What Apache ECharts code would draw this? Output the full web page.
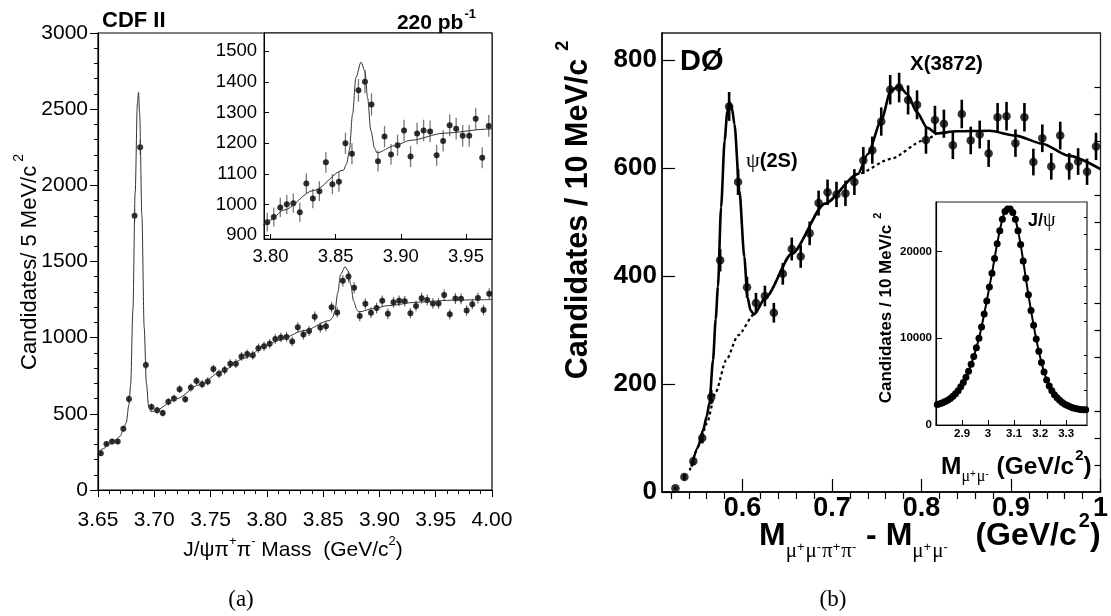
<!DOCTYPE html>
<html>
<head>
<meta charset="utf-8">
<script src="https://cdn.jsdelivr.net/npm/echarts@6/dist/echarts.min.js"></script>
<style>
html, body { margin: 0; padding: 0; background: #fff; }
#main { width: 1111px; height: 616px; }
</style>
</head>
<body>
<div id="main"></div>
<script>
// ---- (a) CDF II : J/psi pi+ pi- mass, 5 MeV bins starting at 3.650 ----
var cdfBinStart = 3.65;
var cdfBinWidth = 0.005;
var cdfCounts = [241, 302, 319, 319, 402, 597, 1800, 2250, 820, 545,
    523, 505, 579, 601, 662, 595, 673, 715, 695, 713,
    794, 763, 787, 829, 829, 877, 892, 885, 931, 943,
    960, 991, 1001, 1005, 975, 1069, 1020, 1044, 1138, 1067,
    1075, 1200, 1166, 1373, 1401, 1327, 1142, 1222, 1164, 1194,
    1242, 1157, 1232, 1242, 1239, 1161, 1208, 1259, 1248, 1225,
    1225, 1280, 1153, 1257, 1255, 1179, 1220, 1260, 1181, 1288];
// fit curve
var cdfFitMass = [3.650, 3.655, 3.660, 3.665, 3.670, 3.6725, 3.675, 3.6775, 3.679, 3.681,
    3.683, 3.685, 3.686, 3.687, 3.689, 3.691, 3.693, 3.695, 3.697, 3.700,
    3.720, 3.740, 3.760, 3.780, 3.800, 3.810, 3.833, 3.856, 3.8585, 3.8605,
    3.863, 3.8655, 3.8695, 3.8725, 3.8745, 3.877, 3.880, 3.8817, 3.895, 3.9075,
    3.933, 3.9675, 4.000];
var cdfFitCounts = [245, 272, 300, 326, 355, 400, 440, 560, 690, 1180,
    1950, 2540, 2610, 2470, 1800, 1070, 700, 545, 515, 518,
    600, 690, 780, 865, 950, 982, 1046, 1113, 1134, 1177,
    1296, 1414, 1465, 1435, 1349, 1242, 1183, 1169, 1192, 1210,
    1233, 1247, 1250];
var cdfInsetXTicks = [3.80, 3.85, 3.90, 3.95];
var cdfInsetYTicks = [900, 1000, 1100, 1200, 1300, 1400, 1500];

// ---- (b) D0 : M(mu mu pi pi) - M(mu mu), 10 MeV bins starting at 0.520 ----
var d0BinStart = 0.52;
var d0BinWidth = 0.01;
var d0Counts = [7, 28, 57, 100, 176, 429, 714, 574, 379, 350,
    363, 332, 404, 450, 436, 479, 535, 555, 551, 553,
    574, 614, 633, 686, 745, 749, 726, 717, 652, 689,
    682, 642, 700, 651, 662, 627, 694, 696, 646, 694,
    611, 655, 603, 660, 603, 612, 593, 640];
var d0FitMass = [0.543, 0.550, 0.556, 0.560, 0.563, 0.567, 0.570, 0.5725, 0.576, 0.580,
    0.583, 0.5855, 0.588, 0.591, 0.5965, 0.602, 0.6055, 0.609, 0.613, 0.626,
    0.655, 0.692, 0.729, 0.740, 0.755, 0.7656, 0.775, 0.784, 0.795, 0.806,
    0.817, 0.839, 0.876, 0.905, 0.935, 0.964, 1.000];
var d0FitCounts = [47, 82, 115, 140, 165, 244, 320, 380, 527, 651,
    705, 722, 712, 681, 558, 435, 361, 336, 329, 361,
    441, 534, 589, 626, 688, 743, 752, 737, 703, 675,
    664, 668, 669, 660, 645, 623, 598];
var d0BgMass = [0.541, 0.552, 0.560, 0.570, 0.5817, 0.595, 0.613, 0.626, 0.655, 0.692,
    0.729, 0.7656, 0.8024, 0.817];
var d0BgCounts = [40, 88, 127, 185, 244, 290, 329, 361, 441, 534,
    589, 617, 651, 664];
var d0XTicks = [0.6, 0.7, 0.8, 0.9, 1];
var d0XMinorTicks = [0.52, 0.54, 0.56, 0.58, 0.62, 0.64, 0.66, 0.68, 0.72, 0.74,
    0.76, 0.78, 0.82, 0.84, 0.86, 0.88, 0.92, 0.94, 0.96, 0.98];
var d0YTicks = [0, 200, 400, 600, 800];
var d0YMinorTicks = [50, 100, 150, 250, 300, 350, 450, 500, 550, 650, 700, 750];

// inset of (b): J/psi -> mu mu, 10 MeV bins starting at 2.800
var jpsiBinStart = 2.80;
var jpsiBinWidth = 0.01;
var jpsiCounts = [2350, 2450, 2550, 2700, 2850, 3050, 3300, 3600, 3950, 4400,
    4900, 5500, 6200, 7000, 7900, 8900, 10000, 11300, 12800, 14300,
    15900, 17500, 19200, 20900, 22400, 23700, 24600, 24900, 24900, 24500,
    23700, 22400, 20800, 18900, 16900, 15000, 13200, 11500, 9900, 8500,
    7200, 6100, 5200, 4500, 3950, 3500, 3150, 2850, 2600, 2400,
    2250, 2100, 2000, 1900, 1850, 1800, 1750, 1750];
var jpsiXTicks = [2.9, 3, 3.1, 3.2, 3.3];
var jpsiYTicks = [0, 10000, 20000];
var jpsiYMinorTicks = [2000, 4000, 6000, 8000, 12000, 14000, 16000, 18000, 22000, 24000];

var SANS = 'Liberation Sans, Arial, Helvetica, sans-serif';
var SERIF = 'Liberation Serif, DejaVu Serif, serif';

function binned(start, width, counts) {
    return counts.map(function (c, i) { return [start + width * (i + 0.5), c]; });
}
function zip(xs, ys) {
    return xs.map(function (x, i) { return [x, ys[i]]; });
}
function withErr(pts) {
    return pts.map(function (p) { return [p[0], p[1], Math.sqrt(p[1])]; });
}
function errBars(width, color) {
    return function (params, api) {
        var x = api.value(0), y = api.value(1), e = api.value(2);
        var a = api.coord([x, y - e]), b = api.coord([x, y + e]);
        return {
            type: 'line',
            shape: { x1: a[0], y1: a[1], x2: b[0], y2: b[1] },
            style: { stroke: color, lineWidth: width }
        };
    };
}
function plain(v) { return String(v); }
function fixed2(v) { return v.toFixed(2); }

var cdfPts = binned(cdfBinStart, cdfBinWidth, cdfCounts);
var cdfInsetPts = cdfPts.filter(function (p) { return p[0] > 3.795 && p[0] < 3.97; });
var d0Pts = binned(d0BinStart, d0BinWidth, d0Counts);
var jpsiPts = binned(jpsiBinStart, jpsiBinWidth, jpsiCounts);

var black = { color: '#000' };

var chart = echarts.init(document.getElementById('main'));
var option = {
    animation: false,
    backgroundColor: '#fff',
    grid: [
        { left: 98, top: 33, width: 394, height: 457, show: true, borderColor: '#000', borderWidth: 1.2 },
        { left: 264, top: 33, width: 228, height: 206, show: true, borderColor: '#000', borderWidth: 1, backgroundColor: '#fff' },
        { left: 662, top: 33, width: 444, height: 459, show: true, borderColor: '#222', borderWidth: 1.3 },
        { left: 936, top: 202, width: 151, height: 223, show: true, borderColor: '#222', borderWidth: 1.2, backgroundColor: '#fff' }
    ],
    xAxis: [
        {
            gridIndex: 0, type: 'value', min: 3.65, max: 4.0, interval: 0.05,
            axisLine: { lineStyle: { color: '#000', width: 1.2 } },
            axisTick: { inside: false, length: 7, lineStyle: black },
            minorTick: { show: true, splitNumber: 5, length: 4, lineStyle: black },
            axisLabel: { margin: 20, color: '#000', fontFamily: SANS, fontSize: 21, formatter: fixed2 },
            splitLine: { show: false }
        },
        {
            gridIndex: 1, type: 'value', min: 3.795, max: 3.97,
            axisLine: { lineStyle: { color: '#000', width: 1 } },
            axisTick: { inside: true, length: 5, customValues: cdfInsetXTicks, lineStyle: black },
            axisLabel: { margin: 8, color: '#000', fontFamily: SANS, fontSize: 18.5, customValues: cdfInsetXTicks, formatter: fixed2 },
            splitLine: { show: false }
        },
        {
            gridIndex: 2, type: 'value', min: 0.51, max: 1.0,
            axisLine: { lineStyle: { color: '#000', width: 1.5 } },
            axisTick: { inside: true, length: 13, customValues: d0XTicks, lineStyle: { color: '#000', width: 1.2 } },
            axisLabel: { margin: 3, color: '#000', fontFamily: SANS, fontWeight: 'bold', fontSize: 27, customValues: d0XTicks, formatter: plain },
            splitLine: { show: false }
        },
        {
            gridIndex: 2, type: 'value', min: 0.51, max: 1.0,
            axisLine: { show: false },
            axisTick: { inside: true, length: 7, customValues: d0XMinorTicks, lineStyle: { color: '#000', width: 1.2 } },
            axisLabel: { show: false },
            splitLine: { show: false }
        },
        {
            gridIndex: 3, type: 'value', min: 2.8, max: 3.38,
            axisLine: { lineStyle: { color: '#000', width: 1.2 } },
            axisTick: { inside: true, length: 5, customValues: jpsiXTicks, lineStyle: black },
            axisLabel: { margin: 3, color: '#000', fontFamily: SANS, fontWeight: 'bold', fontSize: 11.5, customValues: jpsiXTicks, formatter: plain },
            splitLine: { show: false }
        }
    ],
    yAxis: [
        {
            gridIndex: 0, type: 'value', min: 0, max: 3000, interval: 500,
            axisLine: { lineStyle: { color: '#000', width: 1.2 } },
            axisTick: { inside: false, length: 8, lineStyle: black },
            minorTick: { show: true, splitNumber: 5, length: 4, lineStyle: black },
            axisLabel: { margin: 10, color: '#000', fontFamily: SANS, fontSize: 21, formatter: plain },
            splitLine: { show: false }
        },
        {
            gridIndex: 1, type: 'value', min: 888, max: 1560,
            axisLine: { lineStyle: { color: '#000', width: 1 } },
            axisTick: { inside: true, length: 5, customValues: cdfInsetYTicks, lineStyle: black },
            axisLabel: { margin: 7, color: '#000', fontFamily: SANS, fontSize: 18.5, customValues: cdfInsetYTicks, formatter: plain },
            splitLine: { show: false }
        },
        {
            gridIndex: 2, type: 'value', min: 0, max: 850,
            axisLine: { lineStyle: { color: '#000', width: 1.5 } },
            axisTick: { inside: true, length: 13, customValues: d0YTicks, lineStyle: { color: '#000', width: 1.2 } },
            axisLabel: { margin: 5, color: '#000', fontFamily: SANS, fontWeight: 'bold', fontSize: 26, customValues: d0YTicks, formatter: plain },
            splitLine: { show: false }
        },
        {
            gridIndex: 3, type: 'value', min: 0, max: 25700,
            axisLine: { lineStyle: { color: '#000', width: 1.2 } },
            axisTick: { inside: true, length: 6, customValues: jpsiYTicks, lineStyle: black },
            axisLabel: { margin: 4, color: '#000', fontFamily: SANS, fontWeight: 'bold', fontSize: 11.5, customValues: jpsiYTicks, formatter: plain },
            splitLine: { show: false }
        },
        {
            gridIndex: 2, type: 'value', min: 0, max: 850,
            axisLine: { show: false },
            axisTick: { inside: true, length: 6, customValues: d0YMinorTicks, lineStyle: { color: '#000', width: 1.2 } },
            axisLabel: { show: false },
            splitLine: { show: false }
        },
        {
            gridIndex: 3, type: 'value', min: 0, max: 25700,
            axisLine: { show: false },
            axisTick: { inside: true, length: 3, customValues: jpsiYMinorTicks, lineStyle: black },
            axisLabel: { show: false },
            splitLine: { show: false }
        }
    ],
    series: [
        // (a) main
        { type: 'line', xAxisIndex: 0, yAxisIndex: 0, data: zip(cdfFitMass, cdfFitCounts),
          showSymbol: false, smooth: 0.3, smoothMonotone: 'x', lineStyle: { color: '#333', width: 1 } },
        { type: 'custom', coordinateSystem: 'cartesian2d', xAxisIndex: 0, yAxisIndex: 0,
          data: withErr(cdfPts), renderItem: errBars(1.2, '#666') },
        { type: 'scatter', xAxisIndex: 0, yAxisIndex: 0, data: cdfPts, symbolSize: 6, itemStyle: { color: '#000' } },
        // (a) inset
        { type: 'line', xAxisIndex: 1, yAxisIndex: 1, data: zip(cdfFitMass, cdfFitCounts),
          showSymbol: false, smooth: 0.3, smoothMonotone: 'x', lineStyle: { color: '#333', width: 1 } },
        { type: 'custom', coordinateSystem: 'cartesian2d', xAxisIndex: 1, yAxisIndex: 1,
          data: withErr(cdfInsetPts), renderItem: errBars(1.3, '#777') },
        { type: 'scatter', xAxisIndex: 1, yAxisIndex: 1, data: cdfInsetPts, symbolSize: 6, itemStyle: { color: '#000' } },
        // (b) main
        { type: 'line', xAxisIndex: 2, yAxisIndex: 2, data: zip(d0BgMass, d0BgCounts),
          showSymbol: false, smooth: 0.25, smoothMonotone: 'x', lineStyle: { color: '#000', width: 2.2, type: [3, 3] } },
        { type: 'line', xAxisIndex: 2, yAxisIndex: 2, data: zip(d0FitMass, d0FitCounts),
          showSymbol: false, smooth: 0.25, smoothMonotone: 'x', lineStyle: { color: '#000', width: 2.6 } },
        { type: 'custom', coordinateSystem: 'cartesian2d', xAxisIndex: 2, yAxisIndex: 2,
          data: withErr(d0Pts), renderItem: errBars(2.6, '#000') },
        { type: 'scatter', xAxisIndex: 2, yAxisIndex: 2, data: d0Pts, symbolSize: 8.5, itemStyle: { color: '#000' } },
        // (b) inset
        { type: 'line', xAxisIndex: 4, yAxisIndex: 3, data: jpsiPts, symbol: 'circle', symbolSize: 7,
          showAllSymbol: true, smooth: 0.3, lineStyle: { color: '#000', width: 2 }, itemStyle: { color: '#000' } }
    ],
    graphic: [
        { type: 'text', x: 102, y: 10, style: { text: 'CDF II', fill: '#000', fontFamily: SANS, fontWeight: 'bold', fontSize: 22 } },
        { type: 'text', x: 476, y: 8, style: {
            text: '{n|220 pb}{s|-1}', align: 'right', textAlign: 'right',
            rich: {
                n: { fontFamily: SANS, fontWeight: 'bold', fontSize: 21, lineHeight: 21, padding: [5, 0, 0, 0], verticalAlign: 'top', fill: '#000' },
                s: { fontFamily: SANS, fontWeight: 'bold', fontSize: 13, lineHeight: 13, padding: [0, 0, 0, 1], verticalAlign: 'top', fill: '#000' }
            } } },
        { type: 'text', x: 23, y: 262, rotation: Math.PI / 2, style: {
            text: '{n|Candidates/ 5 MeV/c}{s|2}', align: 'center', textAlign: 'center', verticalAlign: 'middle', textVerticalAlign: 'middle',
            rich: {
                n: { fontFamily: SANS, fontSize: 22, lineHeight: 22, padding: [7, 0, 0, 0], verticalAlign: 'top', fill: '#000' },
                s: { fontFamily: SANS, fontSize: 14, lineHeight: 14, padding: [0, 0, 0, 4], verticalAlign: 'top', fill: '#000' }
            } } },
        { type: 'text', x: 293, y: 534, style: {
            text: '{n|J/ψπ}{s|+}{n|π}{s|-}{n| Mass  (GeV/c}{s|2}{n|)}', align: 'center', textAlign: 'center',
            rich: {
                n: { fontFamily: SANS, fontSize: 21, lineHeight: 21, padding: [6, 0, 0, 0], verticalAlign: 'top', fill: '#000' },
                s: { fontFamily: SANS, fontSize: 13, lineHeight: 13, padding: [1, 0, 0, 0], verticalAlign: 'top', fill: '#000' }
            } } },
        { type: 'text', x: 241, y: 588, style: { text: '(a)', align: 'center', textAlign: 'center', fill: '#000', fontFamily: SERIF, fontSize: 23 } },
        { type: 'text', x: 833, y: 588, style: { text: '(b)', align: 'center', textAlign: 'center', fill: '#000', fontFamily: SERIF, fontSize: 23 } },

        { type: 'text', x: 680, y: 47, style: { text: 'DØ', fill: '#000', fontFamily: SANS, fontWeight: 'bold', fontSize: 29 } },
        { type: 'text', x: 746, y: 150, style: {
            text: '{p|ψ}{n|(2S)}',
            rich: {
                p: { fontFamily: SERIF, fontSize: 22, fill: '#000' },
                n: { fontFamily: SANS, fontWeight: 'bold', fontSize: 20, fill: '#000' }
            } } },
        { type: 'text', x: 910, y: 54, style: { text: 'X(3872)', fill: '#000', fontFamily: SANS, fontWeight: 'bold', fontSize: 20.5 } },
        { type: 'text', x: 569, y: 210, rotation: Math.PI / 2, style: {
            text: '{n|Candidates / 10 MeV/c}{s|2}', align: 'center', textAlign: 'center', verticalAlign: 'middle', textVerticalAlign: 'middle',
            rich: {
                n: { fontFamily: SANS, fontWeight: 'bold', fontSize: 30.5, lineHeight: 30, padding: [9, 0, 0, 0], verticalAlign: 'top', fill: '#000' },
                s: { fontFamily: SANS, fontWeight: 'bold', fontSize: 18, lineHeight: 18, padding: [0, 0, 0, 8], verticalAlign: 'top', fill: '#000' }
            } } },
        { type: 'text', x: 759, y: 510, style: {
            text: '{n|M}{b|μ}{c|+}{b|μ}{c|-}{b|π}{c|+}{b|π}{c|-}{n| - M}{b|μ}{c|+}{b|μ}{c|-}{n|   (GeV/c}{s|2}{n|)}',
            rich: {
                n: { fontFamily: SANS, fontWeight: 'bold', fontSize: 32, lineHeight: 32, padding: [10, 0, 0, 0], verticalAlign: 'top', fill: '#000' },
                s: { fontFamily: SANS, fontWeight: 'bold', fontSize: 20, lineHeight: 20, padding: [1, 0, 0, 2], verticalAlign: 'top', fill: '#000' },
                b: { fontFamily: SERIF, fontSize: 21, lineHeight: 21, padding: [31, 0, 0, 0], verticalAlign: 'top', fill: '#000' },
                c: { fontFamily: SANS, fontSize: 13, lineHeight: 13, padding: [31, 1, 0, 0], verticalAlign: 'top', fill: '#000' }
            } } },

        { type: 'text', x: 1028, y: 211, style: {
            text: '{n|J/}{p|ψ}',
            rich: {
                n: { fontFamily: SANS, fontWeight: 'bold', fontSize: 18, fill: '#000' },
                p: { fontFamily: SERIF, fontSize: 20, fill: '#000' }
            } } },
        { type: 'text', x: 881, y: 308, rotation: Math.PI / 2, style: {
            text: '{n|Candidates / 10 MeV/c}{s|2}', align: 'center', textAlign: 'center', verticalAlign: 'middle', textVerticalAlign: 'middle',
            rich: {
                n: { fontFamily: SANS, fontWeight: 'bold', fontSize: 17, lineHeight: 17, padding: [5, 0, 0, 0], verticalAlign: 'top', fill: '#000' },
                s: { fontFamily: SANS, fontWeight: 'bold', fontSize: 11, lineHeight: 11, padding: [0, 0, 0, 6], verticalAlign: 'top', fill: '#000' }
            } } },
        { type: 'text', x: 941, y: 448, style: {
            text: '{n|M}{b|μ}{c|+}{b|μ}{c|-}{n| (GeV/c}{s|2}{n|)}',
            rich: {
                n: { fontFamily: SANS, fontWeight: 'bold', fontSize: 24.5, lineHeight: 24, padding: [7, 0, 0, 0], verticalAlign: 'top', fill: '#000' },
                s: { fontFamily: SANS, fontWeight: 'bold', fontSize: 15, lineHeight: 15, padding: [0, 0, 0, 1], verticalAlign: 'top', fill: '#000' },
                b: { fontFamily: SERIF, fontSize: 16, lineHeight: 16, padding: [21, 0, 0, 0], verticalAlign: 'top', fill: '#000' },
                c: { fontFamily: SANS, fontSize: 10, lineHeight: 10, padding: [21, 1, 0, 0], verticalAlign: 'top', fill: '#000' }
            } } }
    ]
};
chart.setOption(option);
</script>
</body>
</html>
